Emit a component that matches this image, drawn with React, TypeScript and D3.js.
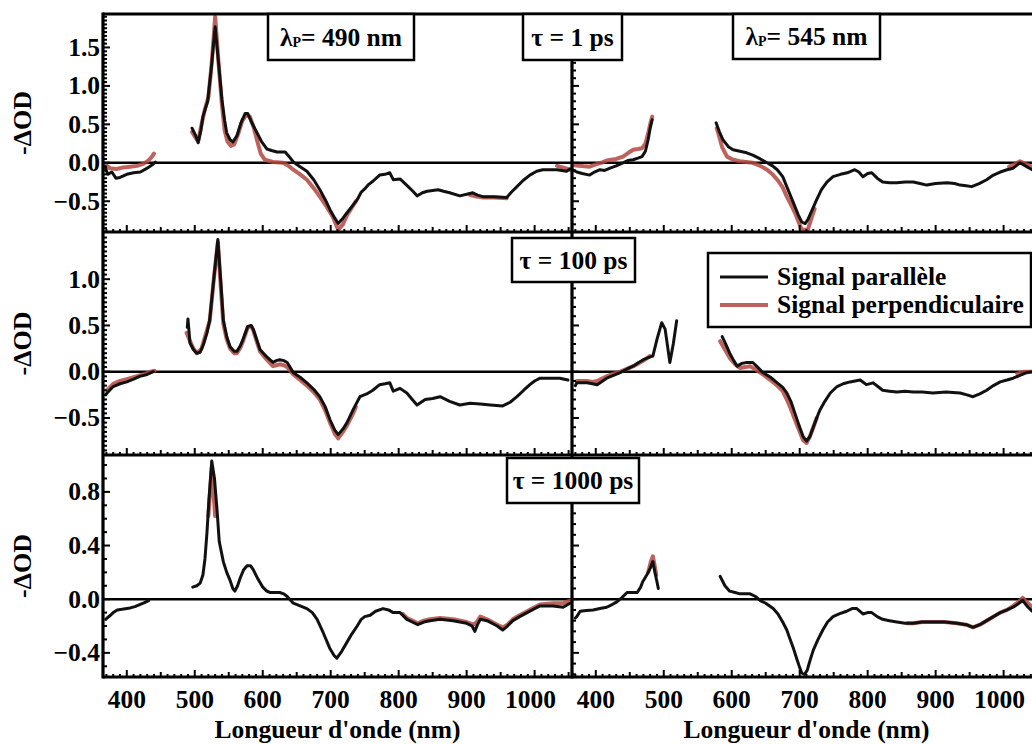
import React from "react";
import * as d3 from "d3";

type Pt = [number, number] | null;

// ---------- tick labels ----------
const xTickLabels = [400, 500, 600, 700, 800, 900, 1000];
const yTicksRow1 = [-0.5, 0, 0.5, 1.0, 1.5];
const yTicksRow2 = [-0.5, 0, 0.5, 1.0];
const yTicksRow3 = [-0.4, 0, 0.4, 0.8];

// ---------- series (wavelength nm, -ΔOD); null = gap ----------
const r1L_par: Pt[] = [
  [368,-0.05],[372,-0.15],[378,-0.12],[384,-0.2],[390,-0.19],[400,-0.15],[410,-0.13],[420,-0.12],[430,-0.07],[437,-0.03],[442,0.01], null,
  [496,0.45],[501,0.36],[505,0.26],[509,0.42],[512,0.6],[519,0.8],[524,1.2],[530,1.77],[535,1.3],[540,0.82],[544,0.55],[547,0.39],[552,0.3],[556,0.27],[562,0.35],[568,0.52],[574,0.64],[578,0.64],[584,0.52],[591,0.4],[598,0.28],[606,0.18],[613,0.16],[621,0.14],[633,0.14],[639,0.08],[645,0.01],[655,-0.05],[665,-0.11],[675,-0.22],[684,-0.35],[692,-0.48],[699,-0.61],[706,-0.72],[711,-0.79],[718,-0.72],[724,-0.65],[732,-0.56],[739,-0.48],[745,-0.38],[750,-0.34],[756,-0.28],[762,-0.24],[772,-0.16],[780,-0.15],[787,-0.13],[792,-0.22],[802,-0.21],[814,-0.31],[822,-0.38],[827,-0.43],[835,-0.39],[842,-0.37],[858,-0.35],[866,-0.37],[875,-0.39],[890,-0.43],[900,-0.41],[909,-0.39],[916,-0.42],[924,-0.44],[940,-0.44],[959,-0.45],[966,-0.38],[974,-0.31],[983,-0.23],[993,-0.16],[1003,-0.11],[1012,-0.09],[1033,-0.09],[1047,-0.11],[1052,-0.08],
];
const r1L_perp: Pt[] = [
  [368,-0.02],[375,-0.07],[385,-0.08],[395,-0.06],[405,-0.05],[415,-0.04],[425,-0.01],[432,0.03],[437,0.08],[440,0.12], null,
  [496,0.4],[501,0.33],[505,0.28],[510,0.5],[515,0.7],[520,0.85],[525,1.3],[530,1.9],[535,1.3],[540,0.75],[544,0.42],[548,0.28],[553,0.22],[558,0.24],[564,0.38],[570,0.55],[576,0.62],[581,0.6],[587,0.45],[592,0.28],[597,0.12],[603,0.04],[615,0.01],[630,0.0],[638,-0.04],[645,-0.09],[655,-0.15],[665,-0.22],[675,-0.33],[684,-0.44],[694,-0.57],[703,-0.7],[711,-0.87],[718,-0.8],[724,-0.68],[732,-0.57],[737,-0.5], null,
  [905,-0.42],[915,-0.44],[925,-0.45],[940,-0.45],[959,-0.46], null,
  [1033,-0.04],[1045,-0.07],[1052,-0.09],
];
const r1R_par: Pt[] = [
  [366,-0.09],[372,-0.12],[380,-0.14],[391,-0.16],[398,-0.12],[406,-0.09],[413,-0.1],[421,-0.07],[430,-0.04],[440,0.0],[447,0.03],[455,0.04],[462,0.06],[468,0.08],[473,0.15],[477,0.3],[480,0.45],[483,0.56], null,
  [577,0.52],[582,0.4],[587,0.3],[595,0.21],[602,0.17],[612,0.15],[622,0.13],[631,0.1],[642,0.05],[652,0.0],[660,-0.04],[667,-0.09],[675,-0.18],[681,-0.31],[687,-0.44],[693,-0.57],[698,-0.68],[703,-0.77],[708,-0.79],[712,-0.74],[718,-0.62],[725,-0.48],[732,-0.35],[740,-0.25],[749,-0.18],[760,-0.15],[770,-0.13],[781,-0.09],[787,-0.12],[793,-0.18],[800,-0.14],[806,-0.13],[814,-0.2],[822,-0.25],[832,-0.26],[843,-0.26],[855,-0.25],[867,-0.25],[877,-0.27],[887,-0.29],[900,-0.27],[917,-0.26],[928,-0.27],[936,-0.29],[945,-0.3],[953,-0.31],[964,-0.27],[975,-0.22],[985,-0.16],[995,-0.12],[1005,-0.09],[1014,-0.07],[1024,0.0],[1034,-0.05],[1042,-0.09],
];
const r1R_perp: Pt[] = [
  [366,-0.03],[375,-0.04],[391,-0.05],[400,-0.02],[408,0.0],[416,0.03],[430,0.05],[440,0.08],[448,0.13],[455,0.17],[462,0.18],[468,0.19],[473,0.25],[477,0.38],[480,0.5],[483,0.6], null,
  [578,0.45],[580,0.39],[586,0.2],[593,0.08],[602,0.04],[612,0.02],[631,0.0],[642,-0.04],[652,-0.09],[660,-0.15],[667,-0.22],[675,-0.32],[681,-0.44],[687,-0.54],[693,-0.65],[698,-0.76],[703,-0.87],[712,-0.87],[718,-0.7],[722,-0.6], null,
  [1008,-0.05],[1016,-0.02],[1024,0.02],[1034,-0.02],[1042,-0.05],
];

const r2L_par: Pt[] = [
  [369,-0.25],[371,-0.23],[380,-0.16],[390,-0.13],[400,-0.11],[410,-0.08],[419,-0.05],[430,-0.03],[439,0.0], null,
  [489,0.48],[490,0.57],[493,0.31],[498,0.24],[503,0.2],[508,0.21],[513,0.3],[518,0.42],[522,0.56],[528,1.0],[534,1.43],[538,1.0],[542,0.56],[547,0.38],[552,0.27],[558,0.22],[562,0.22],[567,0.28],[571,0.35],[578,0.49],[583,0.5],[586,0.46],[591,0.35],[596,0.24],[606,0.16],[615,0.1],[620,0.12],[625,0.13],[631,0.12],[636,0.1],[645,-0.01],[655,-0.06],[665,-0.12],[675,-0.19],[684,-0.27],[692,-0.38],[699,-0.52],[706,-0.63],[711,-0.68],[718,-0.62],[724,-0.55],[733,-0.41],[743,-0.27],[753,-0.24],[762,-0.2],[772,-0.14],[780,-0.13],[787,-0.12],[792,-0.21],[802,-0.18],[812,-0.23],[820,-0.3],[827,-0.36],[839,-0.3],[850,-0.29],[861,-0.27],[875,-0.32],[890,-0.36],[905,-0.34],[920,-0.35],[935,-0.36],[953,-0.37],[964,-0.33],[974,-0.27],[984,-0.2],[993,-0.14],[1000,-0.1],[1008,-0.07],[1020,-0.07],[1037,-0.07],[1049,-0.09],
];
const r2L_perp: Pt[] = [
  [371,-0.2],[380,-0.13],[390,-0.1],[400,-0.08],[410,-0.06],[419,-0.04],[428,-0.02],[435,0.0],[441,0.01], null,
  [488,0.42],[493,0.33],[498,0.25],[503,0.2],[510,0.25],[518,0.45],[522,0.55],[528,1.0],[534,1.4],[538,0.95],[542,0.52],[547,0.35],[552,0.25],[558,0.2],[562,0.2],[567,0.26],[571,0.33],[578,0.48],[583,0.49],[586,0.45],[591,0.33],[596,0.22],[606,0.13],[615,0.06],[620,0.07],[625,0.08],[631,0.07],[636,0.05],[645,-0.03],[655,-0.09],[665,-0.15],[675,-0.22],[684,-0.3],[692,-0.42],[699,-0.55],[706,-0.67],[711,-0.72],[718,-0.65],[724,-0.58],[733,-0.45],[737,-0.38],
];
const r2R_par: Pt[] = [
  [370,-0.15],[372,-0.12],[380,-0.12],[387,-0.12],[395,-0.13],[402,-0.14],[408,-0.11],[416,-0.07],[426,-0.04],[436,-0.01],[446,0.03],[455,0.06],[463,0.1],[470,0.13],[480,0.16],[484,0.17],[490,0.35],[497,0.53],[502,0.46],[509,0.1],[514,0.3],[519,0.55], null,
  [586,0.38],[591,0.3],[597,0.2],[603,0.12],[608,0.06],[615,0.09],[622,0.1],[631,0.1],[638,0.05],[646,-0.01],[657,-0.06],[667,-0.12],[675,-0.17],[681,-0.23],[687,-0.32],[693,-0.45],[699,-0.58],[705,-0.7],[710,-0.75],[715,-0.7],[720,-0.6],[725,-0.5],[730,-0.41],[737,-0.32],[745,-0.23],[755,-0.16],[764,-0.13],[774,-0.11],[789,-0.09],[798,-0.14],[808,-0.12],[815,-0.16],[822,-0.2],[832,-0.21],[843,-0.22],[855,-0.21],[867,-0.22],[880,-0.22],[896,-0.23],[915,-0.22],[936,-0.23],[946,-0.25],[955,-0.27],[965,-0.24],[975,-0.2],[985,-0.15],[995,-0.11],[1005,-0.09],[1014,-0.07],[1024,-0.04],[1034,-0.01],[1042,0.0],
];
const r2R_perp: Pt[] = [
  [372,-0.1],[380,-0.1],[387,-0.1],[395,-0.11],[402,-0.1],[410,-0.07],[416,-0.05],[426,-0.02],[436,0.0],[446,0.03],[455,0.06],[463,0.09],[470,0.12],[480,0.17], null,
  [583,0.33],[590,0.24],[597,0.15],[605,0.08],[612,0.04],[620,0.05],[627,0.06],[636,0.02],[646,-0.03],[657,-0.09],[667,-0.15],[675,-0.21],[681,-0.3],[687,-0.4],[693,-0.52],[699,-0.63],[705,-0.74],[710,-0.77],[715,-0.7],[720,-0.6],[725,-0.5], null,
  [1020,-0.02],[1030,0.0],[1042,0.0],
];

const r3L_par: Pt[] = [
  [369,-0.15],[371,-0.14],[376,-0.12],[380,-0.1],[386,-0.08],[393,-0.075],[405,-0.065],[412,-0.055],[419,-0.04],[426,-0.025],[432,-0.01], null,
  [497,0.09],[503,0.1],[508,0.12],[512,0.18],[515,0.3],[518,0.5],[521,0.75],[525,1.03],[529,0.9],[533,0.65],[536,0.43],[542,0.28],[547,0.2],[552,0.14],[556,0.08],[559,0.06],[563,0.1],[567,0.16],[572,0.22],[577,0.25],[582,0.25],[586,0.22],[593,0.15],[600,0.09],[606,0.06],[611,0.05],[618,0.05],[625,0.05],[631,0.04],[636,0.02],[645,-0.03],[655,-0.05],[665,-0.07],[673,-0.1],[680,-0.15],[689,-0.25],[699,-0.37],[705,-0.42],[709,-0.44],[716,-0.39],[724,-0.32],[731,-0.26],[739,-0.2],[745,-0.15],[750,-0.13],[758,-0.12],[766,-0.09],[777,-0.07],[785,-0.08],[792,-0.1],[802,-0.1],[812,-0.15],[820,-0.17],[828,-0.19],[837,-0.17],[846,-0.16],[861,-0.15],[880,-0.16],[900,-0.18],[908,-0.2],[912,-0.24],[916,-0.19],[920,-0.15],[930,-0.16],[945,-0.2],[953,-0.23],[960,-0.2],[968,-0.16],[978,-0.13],[989,-0.1],[1000,-0.07],[1008,-0.05],[1027,-0.05],[1042,-0.06],[1052,-0.03],
];
const r3L_perp: Pt[] = [
  [520,0.62],[525,0.98],[530,0.62], null,
  [806,-0.11],[812,-0.14],[820,-0.16],[828,-0.18],[837,-0.16],[846,-0.15],[861,-0.14],[880,-0.15],[900,-0.17],[910,-0.19],[915,-0.17],[920,-0.13],[930,-0.15],[945,-0.19],[953,-0.21],[960,-0.19],[968,-0.15],[978,-0.12],[989,-0.09],[1000,-0.06],[1008,-0.04],[1027,-0.03],[1042,-0.03],[1052,-0.01],
];
const r3R_par: Pt[] = [
  [370,-0.14],[372,-0.13],[377,-0.09],[386,-0.085],[396,-0.08],[406,-0.07],[416,-0.06],[424,-0.04],[431,-0.02],[438,0.01],[446,0.05],[453,0.05],[461,0.05],[466,0.09],[469,0.13],[475,0.18],[480,0.23],[484,0.28],[487,0.2],[490,0.13],[492,0.08], null,
  [583,0.17],[590,0.1],[597,0.06],[605,0.05],[612,0.04],[620,0.04],[627,0.04],[635,0.02],[642,-0.01],[650,-0.03],[661,-0.07],[668,-0.11],[675,-0.17],[681,-0.23],[686,-0.3],[691,-0.37],[696,-0.45],[700,-0.51],[703,-0.55],[707,-0.56],[711,-0.53],[715,-0.46],[720,-0.38],[727,-0.3],[734,-0.23],[741,-0.17],[749,-0.13],[758,-0.11],[769,-0.09],[777,-0.07],[784,-0.07],[793,-0.11],[800,-0.1],[806,-0.1],[814,-0.13],[822,-0.15],[832,-0.16],[843,-0.17],[855,-0.18],[867,-0.18],[880,-0.17],[896,-0.17],[913,-0.17],[931,-0.18],[945,-0.19],[955,-0.21],[965,-0.19],[975,-0.16],[985,-0.13],[995,-0.1],[1005,-0.08],[1014,-0.06],[1020,-0.04],[1028,-0.01],[1036,-0.06],[1042,-0.09],
];
const r3R_perp: Pt[] = [
  [477,0.2],[481,0.28],[484,0.32],[487,0.24],[489,0.18], null,
  [858,-0.18],[867,-0.18],[880,-0.17],[896,-0.17],[913,-0.17],[931,-0.18],[945,-0.19],[955,-0.21],[965,-0.19],[975,-0.16],[985,-0.13],[995,-0.1],[1005,-0.08],[1014,-0.05],[1022,-0.02],[1028,0.01],[1036,-0.03],[1042,-0.06],
];

// ---------- legend / annotation text ----------
const legendLabels = ["Signal parallèle", "Signal perpendiculaire"];
const timeLabels = ["τ = 1 ps", "τ = 100 ps", "τ = 1000 ps"];
const pumpLabels = ["490 nm", "545 nm"];
const xTitle = "Longueur d'onde (nm)";
const yTitle = "-ΔOD";

// ---------- layout ----------
const W = 1032;
const H = 745;
const X_DOMAIN: [number, number] = [365, 1055];
const cols = [
  { x0: 103, x1: 572 },
  { x0: 572, x1: 1041 },
];
const rows = [
  { top: 14, bottom: 232, domain: [-0.9, 1.935] as [number, number], ticks: yTicksRow1, minorL: 0.05, minorR: 0.1, fmt: d3.format(".1f"), data: [[r1L_par, r1L_perp], [r1R_par, r1R_perp]] },
  { top: 232, bottom: 455, domain: [-0.9, 1.51] as [number, number], ticks: yTicksRow2, minorL: 0.05, minorR: 0.1, fmt: d3.format(".1f"), data: [[r2L_par, r2L_perp], [r2R_par, r2R_perp]] },
  { top: 455, bottom: 677, domain: [-0.58, 1.075] as [number, number], ticks: yTicksRow3, minorL: 0.1, minorR: 0.08, fmt: d3.format(".1f"), data: [[r3L_par, r3L_perp], [r3R_par, r3R_perp]] },
];

const FONT = "Liberation Serif, DejaVu Serif, serif";
const FS = 25.5;
const BLACK = "#111";
const RED = "#b3483f";

export default function App() {
  const elems: React.ReactNode[] = [];

  rows.forEach((row, ri) => {
    const y = d3.scaleLinear().domain(row.domain).range([row.bottom, row.top]);
    cols.forEach((col, ci) => {
      const x = d3.scaleLinear().domain(X_DOMAIN).range([col.x0, col.x1]);
      const clipId = `clip-${ri}-${ci}`;
      elems.push(
        <clipPath id={clipId} key={clipId}>
          <rect x={col.x0} y={row.top} width={col.x1 - col.x0} height={row.bottom - row.top} />
        </clipPath>
      );
      const line = d3
        .line<Pt>()
        .defined((d) => d !== null)
        .x((d) => x((d as [number, number])[0]))
        .y((d) => y((d as [number, number])[1]))
        .curve(d3.curveLinear);
      const [par, perp] = row.data[ci];
      elems.push(
        <line key={`z-${ri}-${ci}`} x1={col.x0} x2={col.x1} y1={y(0)} y2={y(0)} stroke="#000" strokeWidth={2.6} />
      );
      elems.push(
        <g key={`d-${ri}-${ci}`} clipPath={`url(#${clipId})`}>
          <path d={line(perp) || ""} fill="none" stroke={RED} strokeWidth={4} strokeOpacity={0.85} strokeLinejoin="round" strokeLinecap="round" />
          <path d={line(par) || ""} fill="none" stroke={BLACK} strokeWidth={3} strokeLinejoin="round" strokeLinecap="round" />
        </g>
      );
      const xt = d3.range(370, 1051, 10);
      xt.forEach((v) => {
        const len = v % 100 === 0 ? 7 : v % 50 === 0 ? 5 : 3;
        const px = x(v);
        if (px > W) return;
        elems.push(
          <line key={`xt-${ri}-${ci}-${v}`} x1={px} x2={px} y1={row.bottom} y2={row.bottom - len} stroke="#000" strokeWidth={2} />
        );
      });
      const step = ci === 0 ? row.minorL : row.minorR;
      const start = Math.ceil(row.domain[0] / step);
      const end = Math.floor(row.domain[1] / step);
      for (let k = start; k <= end; k++) {
        const v = k * step;
        const isMajor = row.ticks.some((t) => Math.abs(t - v) < 1e-6);
        const len = isMajor ? 7 : 4;
        const py = y(v);
        if (py < row.top + 2 || py > row.bottom - 2) continue;
        elems.push(
          <line key={`yt-${ri}-${ci}-${k}`} x1={col.x0} x2={col.x0 + len} y1={py} y2={py} stroke="#000" strokeWidth={2} />
        );
      }
      elems.push(
        <line key={`bx-${ri}-${ci}`} x1={col.x0} x2={col.x1} y1={row.bottom} y2={row.bottom} stroke="#000" strokeWidth={3.2} />
      );
    });
    row.ticks.forEach((t) => {
      elems.push(
        <text key={`yl-${ri}-${t}`} x={100} y={y(t) + 8.5} textAnchor="end" fontFamily={FONT} fontWeight="bold" fontSize={FS}>
          {row.fmt(t)}
        </text>
      );
    });
    const cy = (row.top + row.bottom) / 2;
    elems.push(
      <text key={`ytl-${ri}`} transform={`translate(31,${cy}) rotate(-90)`} textAnchor="middle" fontFamily={FONT} fontWeight="bold" fontSize={26}>
        {yTitle}
      </text>
    );
  });

  elems.push(<line key="top" x1={103} x2={W} y1={14} y2={14} stroke="#000" strokeWidth={3.2} />);
  elems.push(<line key="left" x1={103} x2={103} y1={12.5} y2={678.5} stroke="#000" strokeWidth={3.2} />);
  elems.push(<line key="div" x1={572} x2={572} y1={14} y2={678.5} stroke="#000" strokeWidth={3.2} />);

  cols.forEach((col, ci) => {
    const x = d3.scaleLinear().domain(X_DOMAIN).range([col.x0, col.x1]);
    xTickLabels.forEach((v) => {
      elems.push(
        <text key={`xl-${ci}-${v}`} x={x(v) - (v === 1000 ? 4 : 0)} y={708} textAnchor="middle" fontFamily={FONT} fontWeight="bold" fontSize={FS}>
          {v}
        </text>
      );
    });
    elems.push(
      <text key={`xtitle-${ci}`} x={(col.x0 + col.x1) / 2} y={738} textAnchor="middle" fontFamily={FONT} fontWeight="bold" fontSize={FS}>
        {xTitle}
      </text>
    );
  });

  const box = (key: string, x0: number, y0: number, x1: number, y1: number, content: React.ReactNode) => (
    <g key={key}>
      <rect x={x0} y={y0} width={x1 - x0} height={y1 - y0} fill="#fff" stroke="#000" strokeWidth={2.5} />
      <text x={(x0 + x1) / 2} y={(y0 + y1) / 2 + 8.5} textAnchor="middle" fontFamily={FONT} fontWeight="bold" fontSize={FS}>
        {content}
      </text>
    </g>
  );
  const pump = (s: string) => (
    <>
      <tspan>λ</tspan>
      <tspan fontSize={14} dy={1}>P</tspan>
      <tspan dy={-1}>{"= " + s}</tspan>
    </>
  );
  elems.push(box("b1", 268, 14, 414, 60, pump(pumpLabels[0])));
  elems.push(box("b2", 523, 14, 622, 60, timeLabels[0]));
  elems.push(box("b3", 733, 14, 880, 59, pump(pumpLabels[1])));
  elems.push(box("b4", 512, 238, 635, 282, timeLabels[1]));
  elems.push(box("b5", 507, 458, 639, 503, timeLabels[2]));

  elems.push(
    <g key="legend">
      <rect x={708} y={253} width={323} height={74} fill="#fff" stroke="#000" strokeWidth={2.5} />
      <line x1={720} x2={768} y1={277} y2={277} stroke={BLACK} strokeWidth={3} />
      <line x1={720} x2={768} y1={305} y2={305} stroke={RED} strokeWidth={4} strokeOpacity={0.85} />
      <text x={777} y={285} fontFamily={FONT} fontWeight="bold" fontSize={FS}>{legendLabels[0]}</text>
      <text x={777} y={313} fontFamily={FONT} fontWeight="bold" fontSize={FS}>{legendLabels[1]}</text>
    </g>
  );

  return (
    <svg width={W} height={H} style={{ position: "absolute", left: 0, top: 0, background: "#fff" }}>
      <rect width={W} height={H} fill="#fff" />
      {elems}
    </svg>
  );
}
